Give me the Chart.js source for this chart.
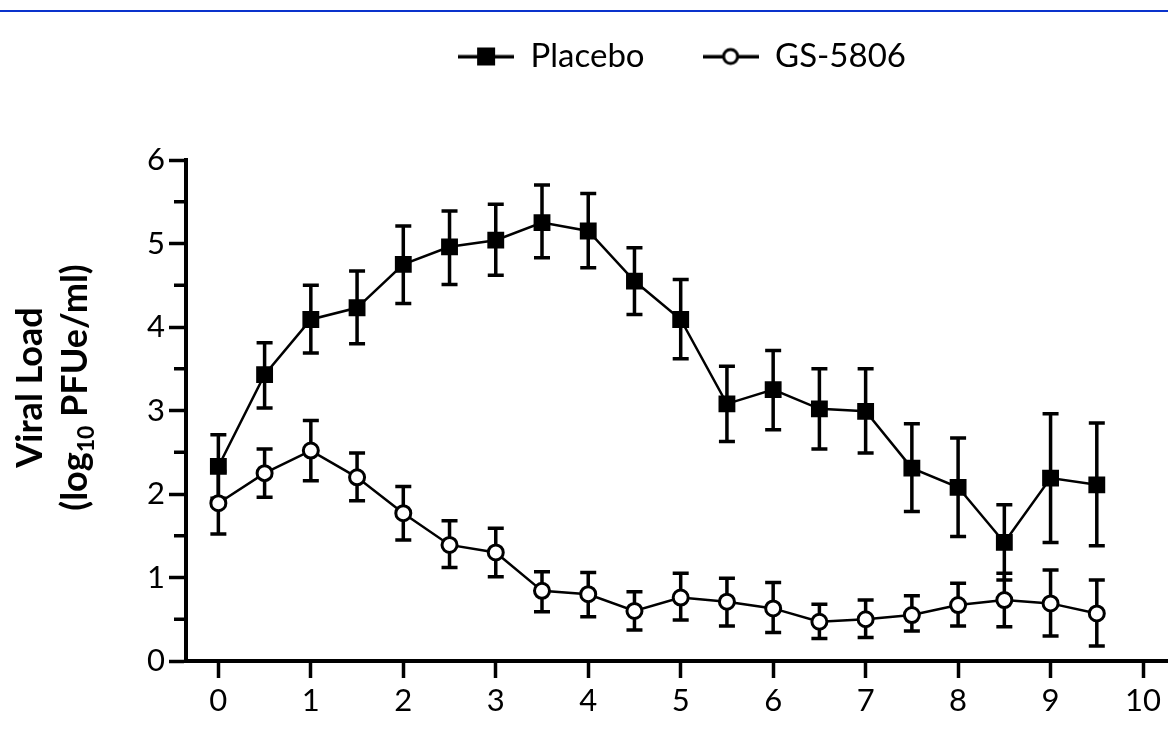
<!DOCTYPE html>
<html><head><meta charset="utf-8">
<script src="https://cdn.jsdelivr.net/npm/chart.js@4.4.1/dist/chart.umd.min.js"></script>
<style>
html,body{margin:0;padding:0;background:#fff;}
#wrap{position:relative;width:1168px;height:746px;overflow:hidden;}
#topline{position:absolute;left:0;top:10px;width:1168px;height:2px;background:#0a33cc;z-index:2;}
canvas{display:block;}
</style></head><body>
<div id="wrap"><div id="topline"></div><canvas id="c" width="1168" height="746"></canvas></div>
<script>
// ---- data ----
const days = [0, 0.5, 1, 1.5, 2, 2.5, 3, 3.5, 4, 4.5, 5, 5.5, 6, 6.5, 7, 7.5, 8, 8.5, 9, 9.5];
const placeboMean = [2.33, 3.43, 4.09, 4.23, 4.75, 4.96, 5.04, 5.25, 5.15, 4.55, 4.09, 3.08, 3.25, 3.02, 2.99, 2.31, 2.08, 1.42, 2.19, 2.11];
const placeboHigh = [2.71, 3.81, 4.50, 4.67, 5.21, 5.39, 5.47, 5.70, 5.60, 4.95, 4.57, 3.53, 3.72, 3.50, 3.50, 2.84, 2.67, 1.87, 2.96, 2.85];
const placeboLow  = [1.95, 3.03, 3.69, 3.80, 4.28, 4.51, 4.62, 4.83, 4.71, 4.15, 3.62, 2.63, 2.77, 2.54, 2.49, 1.79, 1.49, 0.97, 1.42, 1.38];
const gsMean = [1.89, 2.25, 2.52, 2.20, 1.77, 1.39, 1.30, 0.84, 0.80, 0.60, 0.76, 0.71, 0.63, 0.47, 0.50, 0.55, 0.67, 0.73, 0.69, 0.57];
const gsHigh = [2.27, 2.54, 2.88, 2.49, 2.09, 1.68, 1.59, 1.07, 1.06, 0.83, 1.05, 0.99, 0.94, 0.68, 0.73, 0.78, 0.93, 1.05, 1.09, 0.97];
const gsLow  = [1.52, 1.96, 2.16, 1.92, 1.45, 1.12, 1.01, 0.59, 0.53, 0.37, 0.49, 0.42, 0.34, 0.27, 0.28, 0.36, 0.42, 0.41, 0.30, 0.18];
const seriesNames = ['Placebo', 'GS-5806'];
const xTickValues = [0, 1, 2, 3, 4, 5, 6, 7, 8, 9, 10];
const yTickValues = [0, 1, 2, 3, 4, 5, 6];
const yMinorTicks = [0.5, 1.5, 2.5, 3.5, 4.5, 5.5];
const yTitleLine1 = 'Viral Load';
const yTitleLine2 = ['(log', '10', ' PFUe/ml)'];

// ---- legend icons (line + marker) ----
function makeIcon(kind) {
  const c = document.createElement('canvas');
  c.width = 56; c.height = 22;
  const g = c.getContext('2d');
  g.fillStyle = '#000';
  g.fillRect(0, 9.5, 56, 3.5);
  if (kind === 'rect') {
    g.fillRect(19, 2, 18, 18);
  } else {
    g.beginPath(); g.arc(28, 11, 7, 0, Math.PI * 2);
    g.fillStyle = '#fff'; g.fill();
    g.lineWidth = 3; g.strokeStyle = '#000'; g.stroke();
  }
  return c;
}
const legendIcons = [makeIcon('rect'), makeIcon('circle')];

const toPts = (ys) => days.map((d, i) => ({ x: d, y: ys[i] }));

const errorBars = {
  id: 'errorBars',
  beforeDatasetsDraw(chart) {
    const { ctx, scales: { x, y } } = chart;
    ctx.save();
    ctx.strokeStyle = '#000';
    ctx.lineWidth = 3.5;
    [[placeboLow, placeboHigh], [gsLow, gsHigh]].forEach(([lo, hi]) => {
      days.forEach((d, i) => {
        const px = x.getPixelForValue(d);
        const p1 = y.getPixelForValue(lo[i]);
        const p2 = y.getPixelForValue(hi[i]);
        ctx.beginPath();
        ctx.moveTo(px, p1); ctx.lineTo(px, p2);
        ctx.moveTo(px - 8, p1); ctx.lineTo(px + 8, p1);
        ctx.moveTo(px - 8, p2); ctx.lineTo(px + 8, p2);
        ctx.stroke();
      });
    });
    ctx.restore();
  }
};

const minorTicks = {
  id: 'minorTicks',
  afterDraw(chart) {
    const { ctx, scales: { y } } = chart;
    ctx.save();
    ctx.strokeStyle = '#000';
    ctx.lineWidth = 3.5;
    yMinorTicks.forEach(v => {
      const py = y.getPixelForValue(v);
      ctx.beginPath();
      ctx.moveTo(y.right - 12, py); ctx.lineTo(y.right, py);
      ctx.stroke();
    });
    ctx.restore();
  }
};

const yTitle = {
  id: 'yTitle',
  afterDraw(chart) {
    const { ctx, scales: { y } } = chart;
    const cy = (y.top + y.bottom) / 2 - 23;
    ctx.save();
    ctx.fillStyle = '#000';
    ctx.textBaseline = 'alphabetic';
    ctx.textAlign = 'left';
    ctx.save();
    ctx.translate(42, cy);
    ctx.rotate(-Math.PI / 2);
    ctx.font = 'bold 36px Lato';
    const w1 = ctx.measureText(yTitleLine1).width;
    ctx.fillText(yTitleLine1, -w1 / 2, 0);
    ctx.restore();
    ctx.save();
    ctx.translate(87, cy);
    ctx.rotate(-Math.PI / 2);
    const fonts = ['bold 36px Lato', 'bold 23px Lato', 'bold 36px Lato'];
    const shifts = [0, 7, 0];
    const widths = yTitleLine2.map((t, i) => { ctx.font = fonts[i]; return ctx.measureText(t).width; });
    const total = widths.reduce((a, b) => a + b, 0);
    let xx = -total / 2;
    yTitleLine2.forEach((t, i) => {
      ctx.font = fonts[i];
      ctx.fillText(t, xx, shifts[i]);
      xx += widths[i];
    });
    ctx.restore();
    ctx.restore();
  }
};

const legendTweak = {
  id: 'legendTweak',
  beforeInit(chart) {
    const origFit = chart.legend.fit;
    chart.legend.fit = function () { origFit.call(this); this.height = 178; };
  },
  afterLayout(chart) {
    chart.legend.left += 5;
    chart.legend.right += 5;
  }
};

const tickFont = { family: 'Lato', size: 31 };

new Chart(document.getElementById('c'), {
  type: 'line',
  data: {
    datasets: [
      {
        label: seriesNames[0], data: toPts(placeboMean), order: 1,
        borderColor: '#000', borderWidth: 2.5, backgroundColor: '#000',
        pointStyle: 'rect', pointRadius: 10.5, pointBorderWidth: 2,
        pointBackgroundColor: '#000', pointBorderColor: '#000', tension: 0
      },
      {
        label: seriesNames[1], data: toPts(gsMean), order: 0,
        borderColor: '#000', borderWidth: 2.5, backgroundColor: '#fff',
        pointStyle: 'circle', pointRadius: 7.5, pointBorderWidth: 3,
        pointBackgroundColor: '#fff', pointBorderColor: '#000', tension: 0
      }
    ]
  },
  options: {
    responsive: false,
    animation: false,
    events: [],
    layout: { autoPadding: false, padding: { top: -18, left: 0, right: 0, bottom: 0 } },
    plugins: {
      tooltip: { enabled: false },
      legend: {
        position: 'top',
        fullSize: false,
        align: 'center',
        labels: {
          usePointStyle: true,
          pointStyleWidth: 56,
          padding: 58,
          color: '#000',
          font: { family: 'Lato', size: 33 },
          sort: (a, b) => a.datasetIndex - b.datasetIndex,
          generateLabels(chart) {
            const items = Chart.defaults.plugins.legend.labels.generateLabels(chart);
            items.forEach(it => { it.pointStyle = legendIcons[it.datasetIndex]; });
            return items;
          }
        }
      }
    },
    scales: {
      x: {
        type: 'linear',
        min: -0.35,
        max: 10.27,
        afterBuildTicks: (s) => { s.ticks = xTickValues.map(v => ({ value: v })); },
        afterFit: (s) => { s.height = 85; s.paddingRight = 0; s.paddingLeft = 0; },
        grid: { drawOnChartArea: false, drawTicks: true, tickLength: 17, tickWidth: 3.5, tickColor: '#000' },
        border: { display: true, color: '#000', width: 4 },
        ticks: { color: '#000', font: tickFont, padding: 4, maxRotation: 0, autoSkip: false }
      },
      y: {
        type: 'linear',
        min: 0,
        max: 6,
        afterBuildTicks: (s) => { s.ticks = yTickValues.map(v => ({ value: v })); },
        afterFit: (s) => { s.width = 186; },
        grid: { drawOnChartArea: false, drawTicks: true, tickLength: 17, tickWidth: 3.5, tickColor: '#000' },
        border: { display: true, color: '#000', width: 4 },
        ticks: { color: '#000', font: tickFont, padding: 4, autoSkip: false }
      }
    }
  },
  plugins: [legendTweak, errorBars, minorTicks, yTitle]
});
</script>
</body></html>
